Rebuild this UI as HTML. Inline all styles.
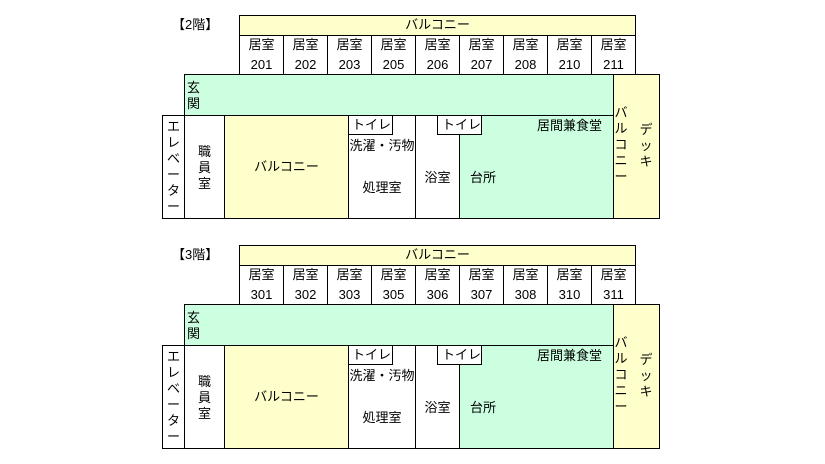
<!DOCTYPE html>
<html><head><meta charset="utf-8"><style>
body{margin:0;width:825px;height:464px;background:#fff;position:relative;overflow:hidden;font-family:"Liberation Sans","Noto Sans CJK JP",sans-serif;font-size:13px;color:#000}
.f{position:absolute;left:0;width:825px;height:230px}
.b{position:absolute;border:1px solid #000;box-sizing:border-box}
.t{position:absolute;white-space:nowrap;line-height:16px}
.y{background:#ffffcc}.g{background:#ccffe0}.w{background:#fff}
.c{text-align:center}
</style></head><body>
<div class="f" style="top:0">
<div class="t" style="left:172px;top:17px">【2階】</div>
<div class="b y" style="left:239px;top:15px;width:397px;height:21px"></div>
<div class="t c" style="left:239px;top:17px;width:397px">バルコニー</div>
<div class="b" style="left:239px;top:35px;width:45px;height:40px"></div><div class="b" style="left:283px;top:35px;width:45px;height:40px"></div><div class="b" style="left:327px;top:35px;width:45px;height:40px"></div><div class="b" style="left:371px;top:35px;width:45px;height:40px"></div><div class="b" style="left:415px;top:35px;width:45px;height:40px"></div><div class="b" style="left:459px;top:35px;width:45px;height:40px"></div><div class="b" style="left:503px;top:35px;width:45px;height:40px"></div><div class="b" style="left:547px;top:35px;width:45px;height:40px"></div><div class="b" style="left:591px;top:35px;width:45px;height:40px"></div>
<div class="t c" style="left:239px;top:37px;width:45px">居室<br><span style="line-height:24px">201</span></div>
<div class="t c" style="left:283px;top:37px;width:45px">居室<br><span style="line-height:24px">202</span></div>
<div class="t c" style="left:327px;top:37px;width:45px">居室<br><span style="line-height:24px">203</span></div>
<div class="t c" style="left:371px;top:37px;width:45px">居室<br><span style="line-height:24px">205</span></div>
<div class="t c" style="left:415px;top:37px;width:45px">居室<br><span style="line-height:24px">206</span></div>
<div class="t c" style="left:459px;top:37px;width:45px">居室<br><span style="line-height:24px">207</span></div>
<div class="t c" style="left:503px;top:37px;width:45px">居室<br><span style="line-height:24px">208</span></div>
<div class="t c" style="left:547px;top:37px;width:45px">居室<br><span style="line-height:24px">210</span></div>
<div class="t c" style="left:591px;top:37px;width:45px">居室<br><span style="line-height:24px">211</span></div>
<div class="b g" style="left:184px;top:74px;width:430px;height:145px"></div>
<div class="b y" style="left:613px;top:74px;width:47px;height:145px"></div>
<div class="b g" style="left:184px;top:74px;width:430px;height:42px"></div>
<div class="t" style="left:187px;top:80px">玄<br>関</div>
<div class="b w" style="left:162px;top:115px;width:23px;height:104px"></div>
<div class="t c" style="left:162px;top:119px;width:23px;line-height:16px">エ<br>レ<br>ベ<br>ー<br>タ<br>ー</div>
<div class="b w" style="left:184px;top:115px;width:41px;height:104px"></div>
<div class="t c" style="left:184px;top:144px;width:41px">職<br>員<br>室</div>
<div class="b y" style="left:224px;top:115px;width:125px;height:104px"></div>
<div class="t c" style="left:224px;top:159px;width:125px">バルコニー</div>
<div class="b w" style="left:348px;top:115px;width:68px;height:104px"></div>
<div class="b w" style="left:348px;top:115px;width:45px;height:20px"></div>
<div class="t" style="left:352px;top:117px">トイレ</div>
<div class="t c" style="left:348px;top:138px;width:68px">洗濯・汚物</div>
<div class="t c" style="left:348px;top:180px;width:68px">処理室</div>
<div class="b w" style="left:415px;top:115px;width:45px;height:104px"></div>
<div class="b w" style="left:437px;top:115px;width:45px;height:20px"></div>
<div class="t" style="left:442px;top:117px">トイレ</div>
<div class="t c" style="left:415px;top:170px;width:45px">浴室</div>
<div class="t" style="left:470px;top:170px">台所</div>
<div class="t" style="left:537px;top:118px">居間兼食堂</div>
<div class="t c" style="left:613px;top:105px;width:16px">バ<br>ル<br>コ<br>ニ<br>ー</div>
<div class="t c" style="left:638px;top:122px;width:16px">デ<br>ッ<br>キ</div>
</div>

<div class="f" style="top:230px">
<div class="t" style="left:172px;top:17px">【3階】</div>
<div class="b y" style="left:239px;top:15px;width:397px;height:21px"></div>
<div class="t c" style="left:239px;top:17px;width:397px">バルコニー</div>
<div class="b" style="left:239px;top:35px;width:45px;height:40px"></div><div class="b" style="left:283px;top:35px;width:45px;height:40px"></div><div class="b" style="left:327px;top:35px;width:45px;height:40px"></div><div class="b" style="left:371px;top:35px;width:45px;height:40px"></div><div class="b" style="left:415px;top:35px;width:45px;height:40px"></div><div class="b" style="left:459px;top:35px;width:45px;height:40px"></div><div class="b" style="left:503px;top:35px;width:45px;height:40px"></div><div class="b" style="left:547px;top:35px;width:45px;height:40px"></div><div class="b" style="left:591px;top:35px;width:45px;height:40px"></div>
<div class="t c" style="left:239px;top:37px;width:45px">居室<br><span style="line-height:24px">301</span></div>
<div class="t c" style="left:283px;top:37px;width:45px">居室<br><span style="line-height:24px">302</span></div>
<div class="t c" style="left:327px;top:37px;width:45px">居室<br><span style="line-height:24px">303</span></div>
<div class="t c" style="left:371px;top:37px;width:45px">居室<br><span style="line-height:24px">305</span></div>
<div class="t c" style="left:415px;top:37px;width:45px">居室<br><span style="line-height:24px">306</span></div>
<div class="t c" style="left:459px;top:37px;width:45px">居室<br><span style="line-height:24px">307</span></div>
<div class="t c" style="left:503px;top:37px;width:45px">居室<br><span style="line-height:24px">308</span></div>
<div class="t c" style="left:547px;top:37px;width:45px">居室<br><span style="line-height:24px">310</span></div>
<div class="t c" style="left:591px;top:37px;width:45px">居室<br><span style="line-height:24px">311</span></div>
<div class="b g" style="left:184px;top:74px;width:430px;height:145px"></div>
<div class="b y" style="left:613px;top:74px;width:47px;height:145px"></div>
<div class="b g" style="left:184px;top:74px;width:430px;height:42px"></div>
<div class="t" style="left:187px;top:80px">玄<br>関</div>
<div class="b w" style="left:162px;top:115px;width:23px;height:104px"></div>
<div class="t c" style="left:162px;top:119px;width:23px;line-height:16px">エ<br>レ<br>ベ<br>ー<br>タ<br>ー</div>
<div class="b w" style="left:184px;top:115px;width:41px;height:104px"></div>
<div class="t c" style="left:184px;top:144px;width:41px">職<br>員<br>室</div>
<div class="b y" style="left:224px;top:115px;width:125px;height:104px"></div>
<div class="t c" style="left:224px;top:159px;width:125px">バルコニー</div>
<div class="b w" style="left:348px;top:115px;width:68px;height:104px"></div>
<div class="b w" style="left:348px;top:115px;width:45px;height:20px"></div>
<div class="t" style="left:352px;top:117px">トイレ</div>
<div class="t c" style="left:348px;top:138px;width:68px">洗濯・汚物</div>
<div class="t c" style="left:348px;top:180px;width:68px">処理室</div>
<div class="b w" style="left:415px;top:115px;width:45px;height:104px"></div>
<div class="b w" style="left:437px;top:115px;width:45px;height:20px"></div>
<div class="t" style="left:442px;top:117px">トイレ</div>
<div class="t c" style="left:415px;top:170px;width:45px">浴室</div>
<div class="t" style="left:470px;top:170px">台所</div>
<div class="t" style="left:537px;top:118px">居間兼食堂</div>
<div class="t c" style="left:613px;top:105px;width:16px">バ<br>ル<br>コ<br>ニ<br>ー</div>
<div class="t c" style="left:638px;top:122px;width:16px">デ<br>ッ<br>キ</div>
</div>
</body></html>
